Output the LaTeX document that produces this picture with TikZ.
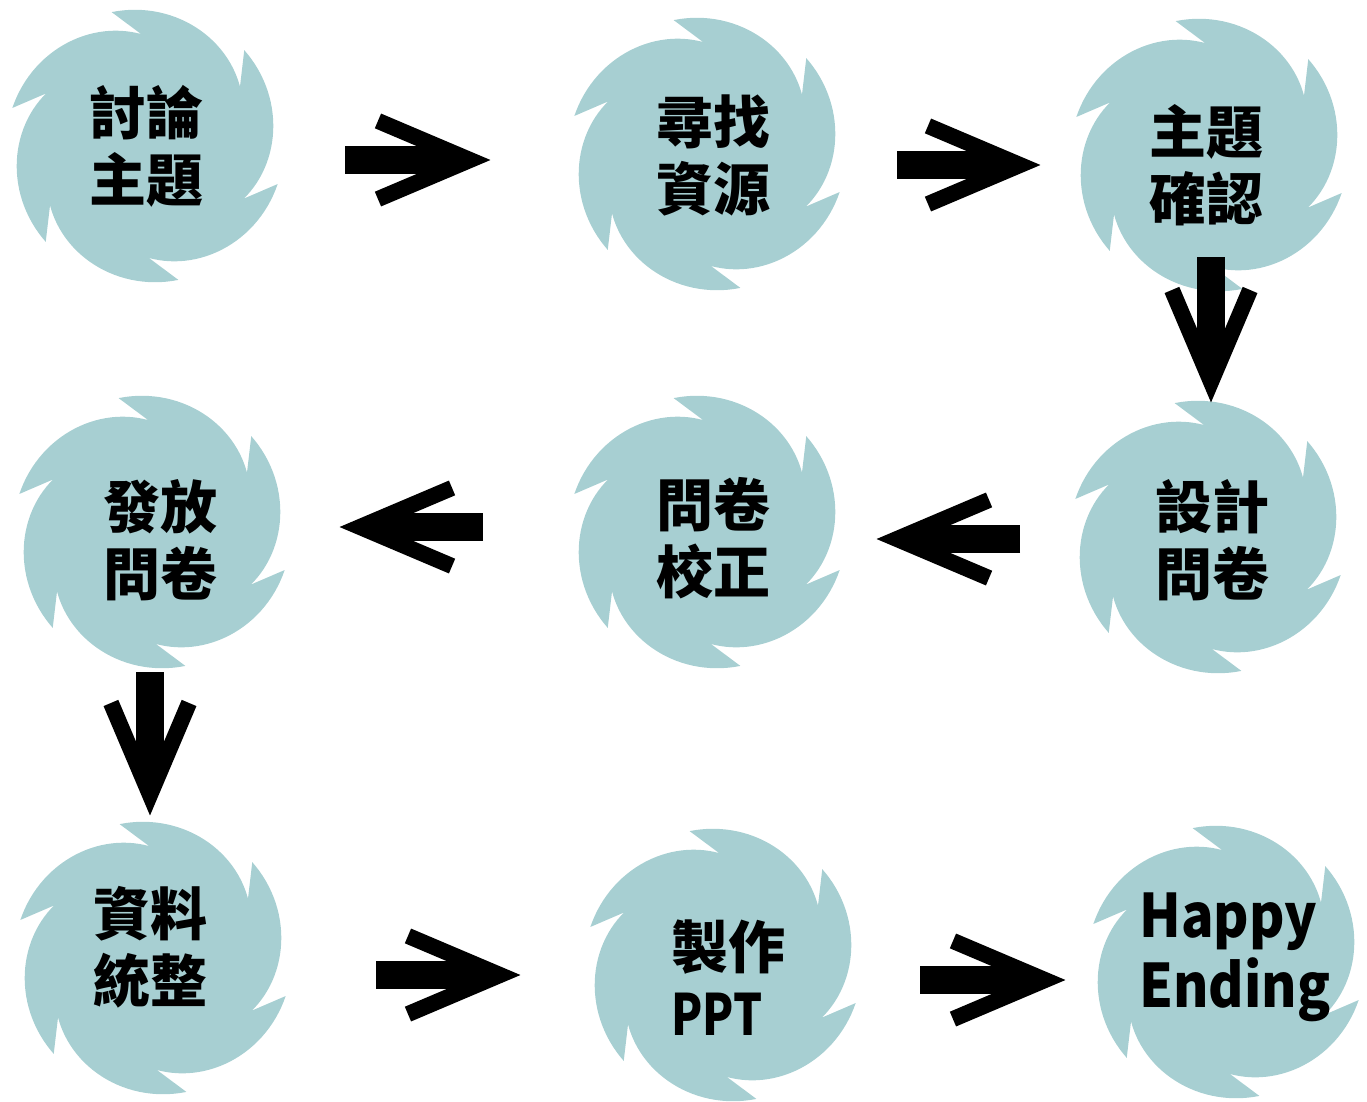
\documentclass[tikz,border=0pt]{standalone}
\usepackage{fontspec}
\newfontfamily\cjk{Noto Sans CJK TC}
\usetikzlibrary{calc}
\definecolor{swirl}{HTML}{A7CFD2}
\newcommand\swirlat[2]{%
  \fill[swirl,shift={(#1,#2)}] (104:138)
    \foreach \k in {0,...,5}{ -- plot[domain=0:72,samples=30,variable=\t]
      ({104-60*\k-\t}:{138-26*(\t/72)*(0.3+0.7*\t/72)}) } -- cycle;}
\newcommand\blockarrow[2]{%
  \draw[shaft] (#1) -- ($(#2)!37pt!(#1)$);
  \coordinate (v) at ($(#2)!20pt!(#1)$);
  \draw[chev] ($(v)!100pt!23:(#1)$) -- (v) -- ($(v)!100pt!-23:(#1)$);}
\begin{document}
\begin{tikzpicture}[x=1pt,y=1pt,
  lbl/.style={font=\cjk\bfseries\fontsize{57}{67}\selectfont, align=center, inner sep=0pt},
  lbll/.style={lbl, align=left},
  shaft/.style={line width=28pt, black},
  chev/.style={line width=16pt, line join=miter, black}]
\useasboundingbox (0,0) rectangle (1367,-1101);
% shapes
\swirlat{145}{-146}
\swirlat{707}{-154}
\swirlat{1209}{-155}
\swirlat{1208}{-537}
\swirlat{707}{-532}
\swirlat{152}{-532}
\swirlat{153}{-958}
\swirlat{723}{-965}
\swirlat{1226}{-962}
% labels
\node[lbl] (n1) at (146,-146) {討論\\主題};
\node[lbl] (n2) at (713,-155) {尋找\\資源};
\node[lbl] (n3) at (1206,-165) {主題\\確認};
\node[lbl] (n4) at (1212,-540) {設計\\問卷};
\node[lbl] (n5) at (713,-538) {問卷\\校正};
\node[lbl] (n6) at (160,-540) {發放\\問卷};
\node[lbl] (n7) at (150,-947) {資料\\統整};
\node[lbll] (n8) at (728,-978) {製作\\\scalebox{0.8}[1]{PPT}};
\node[lbll, font=\cjk\bfseries\fontsize{60}{70}\selectfont] (n9) at (1235,-957) {\scalebox{0.9}[1]{Happy}\\\scalebox{0.9}[1]{Ending}};
% arrow ends
\coordinate (a1s) at (345,-160);  \coordinate (a1e) at (490,-160);
\coordinate (a2s) at (897,-165);  \coordinate (a2e) at (1040,-165);
\coordinate (a3s) at (1211,-257); \coordinate (a3e) at (1211,-402);
\coordinate (a4s) at (1020,-539); \coordinate (a4e) at (877,-539);
\coordinate (a5s) at (483,-527);  \coordinate (a5e) at (340,-527);
\coordinate (a6s) at (150,-672);  \coordinate (a6e) at (150,-815);
\coordinate (a7s) at (376,-975);  \coordinate (a7e) at (520,-975);
\coordinate (a8s) at (920,-980);  \coordinate (a8e) at (1065,-980);
\blockarrow{a1s}{a1e}
\blockarrow{a2s}{a2e}
\blockarrow{a3s}{a3e}
\blockarrow{a4s}{a4e}
\blockarrow{a5s}{a5e}
\blockarrow{a6s}{a6e}
\blockarrow{a7s}{a7e}
\blockarrow{a8s}{a8e}
\end{tikzpicture}
\end{document}
